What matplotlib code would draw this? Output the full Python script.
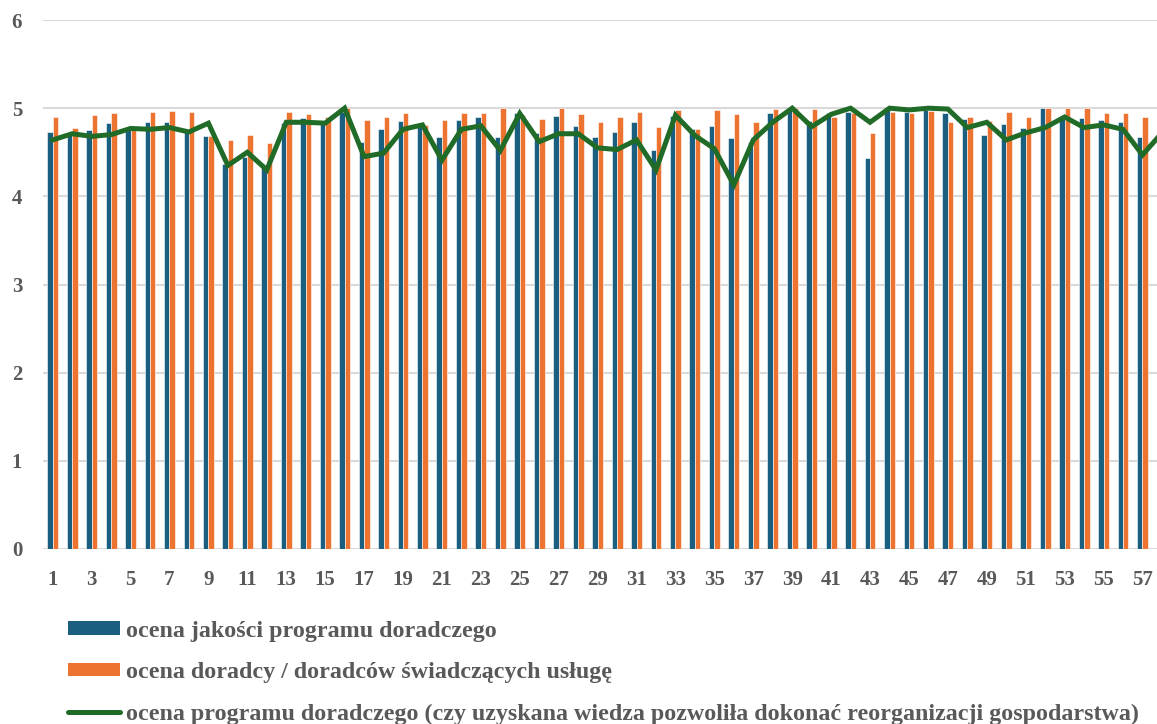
import numpy as np
import matplotlib
matplotlib.use("Agg")
import matplotlib.pyplot as plt
from matplotlib.patches import Patch
from matplotlib.lines import Line2D

# categories 1..58 (58th is cut by the right edge)
categories = np.arange(1, 59)

jakosc = [4.73, 4.71, 4.75, 4.83, 4.77, 4.84, 4.84, 4.73, 4.68, 4.37,
          4.45, 4.32, 4.83, 4.89, 4.83, 4.96, 4.62, 4.76, 4.86, 4.80,
          4.67, 4.87, 4.90, 4.67, 4.94, 4.72, 4.91, 4.80, 4.67, 4.73,
          4.84, 4.53, 4.91, 4.76, 4.80, 4.66, 4.62, 4.94, 4.98, 4.85,
          4.94, 4.96, 4.43, 4.98, 4.96, 4.98, 4.95, 4.88, 4.70, 4.82,
          4.78, 5.00, 4.88, 4.89, 4.87, 4.84, 4.67, 4.83]

doradcy = [4.90, 4.77, 4.92, 4.94, 4.79, 4.96, 4.97, 4.96, 4.68, 4.64,
           4.69, 4.61, 4.96, 4.93, 4.90, 5.00, 4.87, 4.90, 4.94, 4.81,
           4.87, 4.95, 4.95, 5.00, 4.92, 4.88, 5.00, 4.93, 4.84, 4.90,
           4.96, 4.79, 4.98, 4.76, 4.98, 4.93, 4.84, 4.99, 5.00, 4.99,
           4.90, 4.94, 4.72, 4.96, 4.94, 4.97, 4.84, 4.90, 4.86, 4.96,
           4.90, 5.00, 5.00, 5.00, 4.94, 4.95, 4.90, 4.90]

program = [4.64, 4.71, 4.68, 4.70, 4.77, 4.76, 4.78, 4.73, 4.83, 4.35,
           4.50, 4.30, 4.84, 4.84, 4.83, 5.00, 4.45, 4.49, 4.76, 4.81,
           4.41, 4.76, 4.80, 4.52, 4.94, 4.62, 4.71, 4.71, 4.55, 4.53,
           4.64, 4.30, 4.92, 4.69, 4.54, 4.13, 4.64, 4.84, 5.00, 4.79,
           4.93, 5.00, 4.84, 5.00, 4.98, 5.00, 4.99, 4.78, 4.84, 4.64,
           4.72, 4.78, 4.90, 4.78, 4.81, 4.76, 4.47, 4.72]

labels = ["ocena jakości programu doradczego",
          "ocena doradcy / doradców świadczących usługę",
          "ocena programu doradczego (czy uzyskana wiedza pozwoliła dokonać reorganizacji gospodarstwa)"]

c_blue = "#1a5e80"
c_orange = "#ec7330"
c_green = "#1f6b27"
c_text = "#595959"

plt.rcParams["font.family"] = ["Liberation Serif", "DejaVu Serif"]
plt.rcParams["font.weight"] = "bold"

W, H = 1157, 724
fig = plt.figure(figsize=(W / 100, H / 100), dpi=100)
ax = fig.add_axes([43 / W, (H - 549) / H, (W - 43) / W, 529 / H])

bw = 0.28
ax.bar(categories - bw / 2, jakosc, width=bw, color=c_blue, edgecolor="white", linewidth=0.4, zorder=2)
ax.bar(categories + bw / 2, doradcy, width=bw, color=c_orange, edgecolor="white", linewidth=0.4, zorder=2)
ax.plot(categories, program, color=c_green, linewidth=3.6, solid_joinstyle="miter", zorder=3)

ax.set_xlim(0.5, 0.5 + (W - 43) / 19.46)
ax.set_ylim(0, 6)
ax.set_yticks(range(0, 7))
ax.set_xticks(categories[:57:2])
ax.grid(axis="y", color="#d9d9d9", linewidth=1.5, zorder=0)
for s in ax.spines.values():
    s.set_visible(False)
ax.tick_params(axis="both", length=0, labelsize=15, labelcolor=c_text)
ax.tick_params(axis="y", pad=15)
ax.tick_params(axis="x", pad=15)
for t in ax.get_xticklabels() + ax.get_yticklabels():
    t.set_fontweight("bold")

handles = [Patch(facecolor=c_blue), Patch(facecolor=c_orange),
           Line2D([0], [0], color=c_green, linewidth=3.6, solid_capstyle="round")]
leg = fig.legend(handles, labels, loc="upper left", bbox_to_anchor=(68 / W, (H - 620.5) / H),
                 frameon=False, prop={"family": "Liberation Serif", "weight": "bold", "size": 17.3},
                 handlelength=2.17, handleheight=0.5,
                 handletextpad=0.25, labelspacing=0.85, borderpad=0, borderaxespad=0)
for t in leg.get_texts():
    t.set_color(c_text)

fig.savefig("out.png", dpi=100)
